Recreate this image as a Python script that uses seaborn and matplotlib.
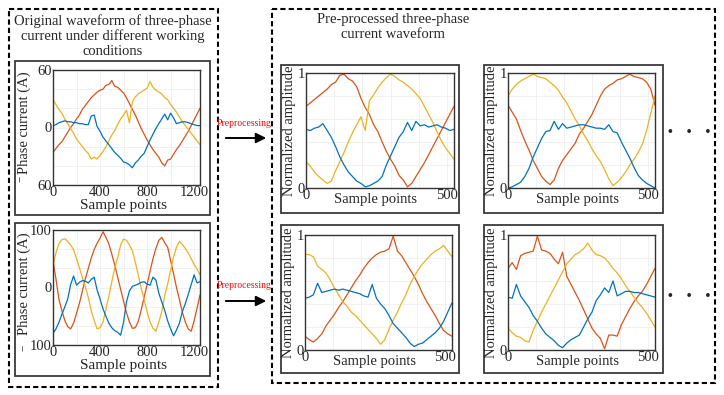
import numpy as np
import pandas as pd
import matplotlib.pyplot as plt
import seaborn as sns
from matplotlib.patches import Rectangle
from matplotlib.ticker import MultipleLocator

# colours of the three phases (MATLAB default order)
BLUE, ORANGE, YELLOW = "#0072BD", "#D95319", "#EDB120"

# ---- raw current, two working conditions (sample index step 25) ----
x_raw = np.arange(0, 1251, 25)

raw1_orange = [-26, -22, -18, -15, -10, -5, 0, 4, 9, 13, 19, 23, 27, 31, 34, 37, 39, 40, 44, 45,
               49, 43, 42, 39, 36, 31, 25, 19, 13, 6, -1, -7, -13, -18, -23, -27, -31, -37, -40, -34,
               -33, -28, -23, -19, -14, -9, -4, 2, 8, 14, 20]
raw1_yellow = [29, 24, 19, 15, 9, 4, -1, -6, -12, -16, -20, -24, -27, -33, -31, -33, -29, -25, -20, -14,
               -8, -3, 3, 9, 13, 18, 5, 27, 32, 35, 37, 39, 41, 48, 42, 39, 37, 35, 31, 29,
               24, 20, 16, 11, 6, 2, -2, -6, -10, -14, -18]
raw1_blue = [2, 3, 5, 6, 7, 6, 6, 5, 5, 4, 4, 3, 3, 12, 13, 1, -4, -10, -14, -18,
             -22, -26, -29, -32, -36, -37, -39, -42, -37, -34, -30, -27, -20, -13, -7, -1, 4, 9, 14, 8,
             15, 10, 4, 5, 6, 6, 5, 4, 3, 2, 2]

raw2_orange = [47, 15, -20, -40, -57, -68, -72, -62, -45, -27, -6, 15, 33, 51, 66, 77, 86, 97, 87, 76,
               58, 39, 18, -3, -24, -44, -60, -71, -70, -59, -39, -17, 5, 28, 50, 68, 82, 87, 78, 70,
               47, 24, 0, -21, -43, -60, -72, -76, -58, -36, -13]
raw2_yellow = [39, 60, 76, 83, 85, 80, 74, 66, 50, 34, 17, 1, -17, -40, -57, -72, -70, -60, -38, -15,
               10, 34, 52, 74, 84, 82, 74, 64, 44, 22, -1, -21, -42, -60, -71, -76, -60, -42, -14, 6,
               30, 53, 70, 80, 75, 68, 60, 50, 40, 32, 22]
raw2_blue = [-80, -72, -61, -47, -34, -20, 5, 20, 4, 9, 12, 11, 8, 14, 18, -4, -20, -37, -50, -62,
             -70, -75, -78, -83, -60, -25, -6, 2, 4, 6, 9, 10, 6, 4, 18, 13, -10, -25, -40, -58,
             -72, -84, -74, -62, -42, -28, -12, 5, 22, 8, 10]

# ---- normalised segments (sample index step 15) ----
x_norm = np.arange(0, 526, 15)

n1_orange = [0.71, 0.74, 0.77, 0.80, 0.83, 0.86, 0.90, 0.92, 0.98, 0.99, 0.95, 0.93, 0.88, 0.78, 0.70, 0.64, 0.55, 0.49,
             0.40, 0.32, 0.25, 0.19, 0.11, 0.07, 0.01, 0.04, 0.10, 0.16, 0.22, 0.29, 0.36, 0.43, 0.50, 0.57, 0.64, 0.71]
n1_yellow = [0.23, 0.19, 0.14, 0.10, 0.07, 0.04, 0.06, 0.15, 0.23, 0.31, 0.40, 0.48, 0.55, 0.62, 0.50, 0.76, 0.81, 0.87,
             0.92, 0.96, 0.99, 0.97, 0.94, 0.92, 0.89, 0.86, 0.82, 0.78, 0.71, 0.64, 0.57, 0.49, 0.41, 0.35, 0.30, 0.25]
n1_blue = [0.51, 0.50, 0.52, 0.53, 0.56, 0.50, 0.44, 0.36, 0.27, 0.20, 0.14, 0.10, 0.06, 0.04, 0.01, 0.02, 0.04, 0.06,
           0.10, 0.20, 0.28, 0.36, 0.44, 0.49, 0.57, 0.50, 0.58, 0.54, 0.55, 0.53, 0.54, 0.55, 0.53, 0.52, 0.50, 0.51]

n2_orange = [0.72, 0.66, 0.60, 0.50, 0.41, 0.33, 0.24, 0.17, 0.10, 0.06, 0.03, 0.07, 0.17, 0.24, 0.29, 0.34, 0.39, 0.47,
             0.52, 0.58, 0.64, 0.72, 0.80, 0.86, 0.89, 0.91, 0.94, 0.95, 0.97, 0.99, 0.97, 0.96, 0.95, 0.92, 0.86, 0.72]
n2_yellow = [0.80, 0.86, 0.90, 0.93, 0.95, 0.97, 0.99, 0.97, 0.96, 0.95, 0.92, 0.89, 0.85, 0.79, 0.74, 0.67, 0.60, 0.54,
             0.47, 0.41, 0.34, 0.28, 0.23, 0.16, 0.08, 0.02, 0.05, 0.09, 0.14, 0.20, 0.25, 0.31, 0.38, 0.50, 0.65, 0.80]
n2_blue = [0.00, 0.01, 0.03, 0.05, 0.10, 0.17, 0.27, 0.35, 0.43, 0.49, 0.50, 0.58, 0.51, 0.56, 0.52, 0.53, 0.54, 0.55,
           0.55, 0.54, 0.53, 0.52, 0.52, 0.51, 0.55, 0.49, 0.48, 0.40, 0.33, 0.26, 0.18, 0.11, 0.07, 0.04, 0.02, 0.00]

n3_orange = [0.12, 0.09, 0.07, 0.10, 0.14, 0.21, 0.26, 0.31, 0.37, 0.42, 0.48, 0.54, 0.60, 0.65, 0.71, 0.76, 0.80, 0.83,
             0.85, 0.86, 0.88, 0.99, 0.86, 0.82, 0.76, 0.70, 0.64, 0.57, 0.49, 0.42, 0.36, 0.30, 0.23, 0.17, 0.14, 0.12]
n3_yellow = [0.83, 0.83, 0.81, 0.73, 0.70, 0.67, 0.61, 0.54, 0.48, 0.42, 0.38, 0.33, 0.30, 0.26, 0.22, 0.18, 0.14, 0.10,
             0.05, 0.09, 0.18, 0.26, 0.33, 0.41, 0.48, 0.57, 0.64, 0.70, 0.75, 0.79, 0.83, 0.86, 0.88, 0.91, 0.86, 0.81]
n3_blue = [0.45, 0.46, 0.48, 0.58, 0.50, 0.51, 0.52, 0.53, 0.52, 0.53, 0.52, 0.51, 0.50, 0.49, 0.47, 0.46, 0.57, 0.45,
           0.40, 0.36, 0.30, 0.23, 0.19, 0.15, 0.11, 0.06, 0.03, 0.05, 0.06, 0.09, 0.12, 0.15, 0.19, 0.25, 0.33, 0.41]

n4_orange = [0.71, 0.76, 0.70, 0.82, 0.84, 0.85, 0.86, 0.99, 0.87, 0.86, 0.84, 0.79, 0.75, 0.85, 0.64, 0.57, 0.50, 0.43,
             0.35, 0.27, 0.19, 0.14, 0.10, 0.01, 0.13, 0.13, 0.12, 0.22, 0.29, 0.36, 0.42, 0.47, 0.51, 0.57, 0.64, 0.71]
n4_yellow = [0.19, 0.15, 0.12, 0.11, 0.08, 0.07, 0.17, 0.25, 0.33, 0.40, 0.47, 0.54, 0.61, 0.68, 0.75, 0.79, 0.83, 0.85,
             0.88, 0.93, 0.87, 0.83, 0.82, 0.80, 0.76, 0.71, 0.67, 0.62, 0.56, 0.51, 0.46, 0.41, 0.37, 0.32, 0.26, 0.20]
n4_blue = [0.46, 0.45, 0.57, 0.47, 0.42, 0.37, 0.30, 0.25, 0.19, 0.14, 0.11, 0.08, 0.04, 0.02, 0.06, 0.09, 0.11, 0.13,
           0.20, 0.27, 0.33, 0.43, 0.48, 0.54, 0.50, 0.60, 0.47, 0.49, 0.51, 0.51, 0.50, 0.50, 0.49, 0.48, 0.47, 0.46]

sns.set_style("white")
plt.rcParams["font.family"] = ["Liberation Serif", "DejaVu Serif"]

W, H = 724, 395
fig = plt.figure(figsize=(W / 100, H / 100), dpi=100)


def rect(x0, y0, x1, y1):
    return [x0 / W, 1 - y1 / H, (x1 - x0) / W, (y1 - y0) / H]


# background layer in pixel coordinates for boxes, arrows and captions
bg = fig.add_axes([0, 0, 1, 1])
bg.set_xlim(0, W)
bg.set_ylim(H, 0)
bg.axis("off")

dash = (0, (2.5, 1.5))
bg.add_patch(Rectangle((9, 9), 209, 378, fill=False, ec="black", lw=1.5, ls=dash))
bg.add_patch(Rectangle((272, 9), 443, 374, fill=False, ec="black", lw=1.5, ls=dash))
for (x0, y0, x1, y1) in [(15, 61, 210, 215), (15, 223, 210, 376),
                         (281, 65, 459, 213), (484, 65, 663, 213),
                         (281, 225, 459, 373), (484, 225, 663, 373)]:
    bg.add_patch(Rectangle((x0, y0), x1 - x0, y1 - y0, fill=False, ec="#3a3a3a", lw=1.3))

bg.text(113, 36, "Original waveform of three-phase\ncurrent under different working\nconditions",
        ha="center", va="center", fontsize=10.5, linespacing=1.15)
bg.text(393, 27, "Pre-processed three-phase\ncurrent waveform",
        ha="center", va="center", fontsize=10.5, linespacing=1.15)

for ya, yt in [(138, 123), (301, 285)]:
    bg.annotate("", xy=(269, ya), xytext=(223, ya),
                arrowprops=dict(arrowstyle="-|>", color="black", lw=1.4, mutation_scale=15))
    bg.text(244, yt, "Preprocessing", color="red", fontsize=7, ha="center", va="center")

for yd in [133, 297]:
    bg.text(689, yd, "•    •    •", ha="center", va="center", fontsize=10, fontweight="bold")

# stray minus signs of the lower y tick labels
bg.text(21, 179, "−", rotation=90, ha="center", va="center", fontsize=8)
bg.text(24, 348, "−", rotation=90, ha="center", va="center", fontsize=8)


def draw(ax, x, orange, yellow, blue):
    df = pd.DataFrame({"x": x, "orange": orange, "yellow": yellow, "blue": blue})
    sns.lineplot(data=df, x="x", y="orange", ax=ax, color=ORANGE, lw=0.9)
    sns.lineplot(data=df, x="x", y="yellow", ax=ax, color=YELLOW, lw=0.9)
    sns.lineplot(data=df, x="x", y="blue", ax=ax, color=BLUE, lw=0.9)
    for s in ax.spines.values():
        s.set_color("#333333")
        s.set_linewidth(1.0)
    ax.grid(True, which="both", color="#ececec", lw=0.5)
    ax.set_axisbelow(True)


# raw panels
for pos, (o, yv, b), lim, lab, ly in [
        (rect(53, 70, 200, 185), (raw1_orange, raw1_yellow, raw1_blue), 60, "60", 0.54),
        (rect(53, 230, 200, 345), (raw2_orange, raw2_yellow, raw2_blue), 100, "100", 0.53)]:
    ax = fig.add_axes(pos)
    draw(ax, x_raw, o, yv, b)
    ax.set_xlim(0, 1250)
    ax.set_ylim(-lim, lim)
    ax.set_xticks([0, 400, 800, 1200])
    ax.set_yticks([-lim, 0, lim])
    ax.set_yticklabels([lab, "0", lab])
    ax.xaxis.set_minor_locator(MultipleLocator(200))
    ax.yaxis.set_minor_locator(MultipleLocator(lim / 3))
    ax.tick_params(axis="both", which="major", labelsize=10.5, pad=1, length=0)
    ax.tick_params(which="minor", length=0)
    ax.set_xlabel("Sample points", fontsize=11)
    ax.set_ylabel("Phase current (A)", fontsize=10.5)
    ax.xaxis.set_label_coords(0.48, -0.12)
    ax.yaxis.set_label_coords(-0.15, ly)

# normalised panels
norm_panels = [
    (rect(306, 73, 454, 188), (n1_orange, n1_yellow, n1_blue)),
    (rect(508, 73, 655, 188), (n2_orange, n2_yellow, n2_blue)),
    (rect(305, 235, 452, 350), (n3_orange, n3_yellow, n3_blue)),
    (rect(508, 235, 655, 350), (n4_orange, n4_yellow, n4_blue)),
]
for pos, (o, yv, b) in norm_panels:
    ax = fig.add_axes(pos)
    draw(ax, x_norm, o, yv, b)
    ax.set_xlim(0, 525)
    ax.set_ylim(0, 1)
    ax.set_xticks([0, 500])
    ax.set_yticks([0, 1])
    ax.xaxis.set_minor_locator(MultipleLocator(100))
    ax.yaxis.set_minor_locator(MultipleLocator(0.2))
    ax.tick_params(axis="both", which="major", labelsize=10.5, pad=1, length=0)
    ax.tick_params(which="minor", length=0)
    ax.set_xlabel("Sample points", fontsize=10.5)
    ax.set_ylabel("Normalized amplitude", fontsize=10.5)
    ax.xaxis.set_label_coords(0.47, -0.04)
    ax.yaxis.set_label_coords(-0.065, 0.5)

fig.savefig("out.png", dpi=100)
